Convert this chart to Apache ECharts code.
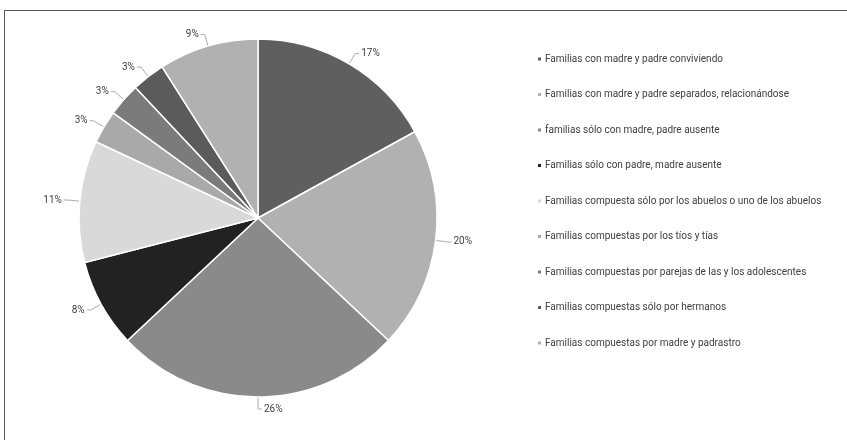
<!DOCTYPE html>
<html>
<head>
<meta charset="utf-8">
<script src="https://cdn.jsdelivr.net/npm/echarts@6/dist/echarts.min.js"></script>
<style>
  html, body { margin: 0; padding: 0; background: #fff; }
  #chart { width: 847px; height: 440px; }
</style>
</head>
<body>
<div id="chart"></div>
<script>
// categorías y porcentajes
const categories = [
  'Familias con madre y padre conviviendo',
  'Familias con madre y padre separados, relacionándose',
  'familias sólo con madre, padre ausente',
  'Familias sólo con padre, madre ausente',
  'Familias compuesta sólo por los abuelos o uno de los abuelos',
  'Familias compuestas por los tíos y tías',
  'Familias compuestas por parejas de las y los adolescentes',
  'Familias compuestas sólo por hermanos',
  'Familias compuestas por madre y padrastro'
];
const values = [17, 20, 26, 8, 11, 3, 3, 3, 9];
const colors = ['#5f5f5f', '#b1b1b1', '#8a8a8a', '#222222', '#d9d9d9', '#a9a9a9', '#7b7b7b', '#5b5b5b', '#b1b1b1'];

const chart = echarts.init(document.getElementById('chart'));
chart.setOption({
  animation: false,
  color: colors,
  textStyle: { fontFamily: 'Roboto, "Liberation Sans", sans-serif' },
  graphic: [{
    type: 'rect',
    shape: { x: 4.5, y: 10.5, width: 900, height: 500 },
    style: { fill: 'none', stroke: '#555', lineWidth: 1 },
    silent: true
  }],
  legend: {
    orient: 'vertical',
    left: 531,
    top: 49,
    itemGap: 25.5,
    itemWidth: 5,
    itemHeight: 5,
    icon: 'rect',
    textStyle: { fontSize: 10, color: '#404040', padding: [0, 0, 0, -2] },
    data: categories
  },
  series: [{
    type: 'pie',
    center: [258, 218],
    radius: 179,
    startAngle: 90,
    clockwise: true,
    itemStyle: { borderColor: '#fff', borderWidth: 1.5 },
    label: {
      formatter: '{c}%',
      fontSize: 10,
      color: '#404040',
      distanceToLabelLine: 2
    },
    labelLine: {
      length: 12,
      length2: 4,
      lineStyle: { color: '#aaa', width: 1 }
    },
    emphasis: { disabled: true },
    data: categories.map((name, i) => ({ name: name, value: values[i] }))
  }]
});
</script>
</body>
</html>
